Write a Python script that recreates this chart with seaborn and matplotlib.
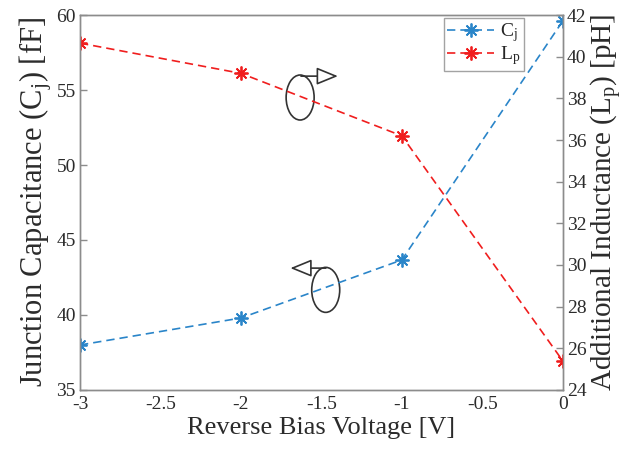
import matplotlib
matplotlib.use("Agg")
import matplotlib.pyplot as plt
from matplotlib.patches import Ellipse
import seaborn as sns
import pandas as pd

# Measured data
voltage = [-3, -2, -1, 0]
cj_fF = [38.0, 39.8, 43.67, 59.6]
lp_pH = [40.65, 39.2, 36.2, 25.4]

x_ticks = [-3, -2.5, -2, -1.5, -1, -0.5, 0]
x_tick_labels = ["-3", "-2.5", "-2", "-1.5", "-1", "-0.5", "0"]
left_ticks = [35, 40, 45, 50, 55, 60]
right_ticks = [24, 26, 28, 30, 32, 34, 36, 38, 40, 42]

sns.set_theme(style="white")
plt.rcParams["font.family"] = ["Liberation Serif", "DejaVu Serif"]
plt.rcParams["mathtext.fontset"] = "custom"
plt.rcParams["mathtext.rm"] = "Liberation Serif"
plt.rcParams["mathtext.it"] = "Liberation Serif:italic"

blue = "#2a85c9"
red = "#f01e1e"
spine_gray = "#8c8c8c"
text_col = "#2b2b2b"
ink = "#333333"

df = pd.DataFrame({"V": voltage, "Cj": cj_fF, "Lp": lp_pH})

fig = plt.figure(figsize=(6.33, 4.55), dpi=100)
ax = fig.add_axes([0.1264, 0.1429, 0.7626, 0.8241])
ax2 = ax.twinx()

asterisk = (8, 2, 0)
sns.lineplot(data=df, x="V", y="Cj", ax=ax, color=blue, linestyle=(0, (5, 3)),
             linewidth=1.2, marker=asterisk, markersize=10, markeredgewidth=1.3,
             markeredgecolor=blue, label=r"$\mathrm{C_j}$", legend=False)
sns.lineplot(data=df, x="V", y="Lp", ax=ax2, color=red, linestyle=(0, (5, 3)),
             linewidth=1.2, marker=asterisk, markersize=10, markeredgewidth=1.3,
             markeredgecolor=red, label=r"$\mathrm{L_p}$", legend=False)

ax.set_xlim(-3, 0)
ax.set_ylim(35, 60)
ax2.set_ylim(24, 42)
ax.set_xticks(x_ticks)
ax.set_xticklabels(x_tick_labels)
ax.set_yticks(left_ticks)
ax2.set_yticks(right_ticks)

ax.set_xlabel("Reverse Bias Voltage [V]", fontsize=19, color=text_col, labelpad=3)
ax.set_ylabel(r"Junction Capacitance ($\mathrm{C_j}$) [fF]", fontsize=22,
              color=text_col, labelpad=2)
ax2.set_ylabel(r"Additional Inductance ($\mathrm{L_p}$) [pH]", fontsize=21,
               color=text_col, labelpad=2)

for a in (ax, ax2):
    for s in a.spines.values():
        s.set_color(spine_gray)
        s.set_linewidth(1.0)
    a.tick_params(direction="in", length=5, width=1.0, color=spine_gray,
                  labelsize=14, labelcolor=text_col, pad=3)
ax.tick_params(axis="y", right=False)
ax2.tick_params(axis="y", left=False)
ax.tick_params(axis="x", top=False, pad=4)

# Ellipse-and-arrow markers pointing each curve to its axis
arrow_style = dict(arrowstyle="-|>,head_length=1.1,head_width=0.45",
                   edgecolor=ink, facecolor="white", linewidth=1.2)
ax.add_patch(Ellipse((0.456, 0.78), 0.058, 0.12, transform=ax.transAxes,
                     fill=False, edgecolor=ink, linewidth=1.2))
ax.annotate("", xy=(0.54, 0.837), xytext=(0.452, 0.837), xycoords="axes fraction",
            arrowprops=arrow_style)
ax.add_patch(Ellipse((0.509, 0.267), 0.058, 0.12, transform=ax.transAxes,
                     fill=False, edgecolor=ink, linewidth=1.2))
ax.annotate("", xy=(0.43, 0.325), xytext=(0.515, 0.325), xycoords="axes fraction",
            arrowprops=arrow_style)

h1, l1 = ax.get_legend_handles_labels()
h2, l2 = ax2.get_legend_handles_labels()
leg = ax2.legend(h1 + h2, l1 + l2, loc="upper right", bbox_to_anchor=(0.92, 0.993),
                 fontsize=14, frameon=True, fancybox=False, handlelength=2.4,
                 handletextpad=0.3, borderpad=0.2, labelspacing=0.0,
                 borderaxespad=0.0)
leg.get_frame().set_edgecolor(spine_gray)
leg.get_frame().set_linewidth(1.0)

fig.savefig("out.png", dpi=100)
